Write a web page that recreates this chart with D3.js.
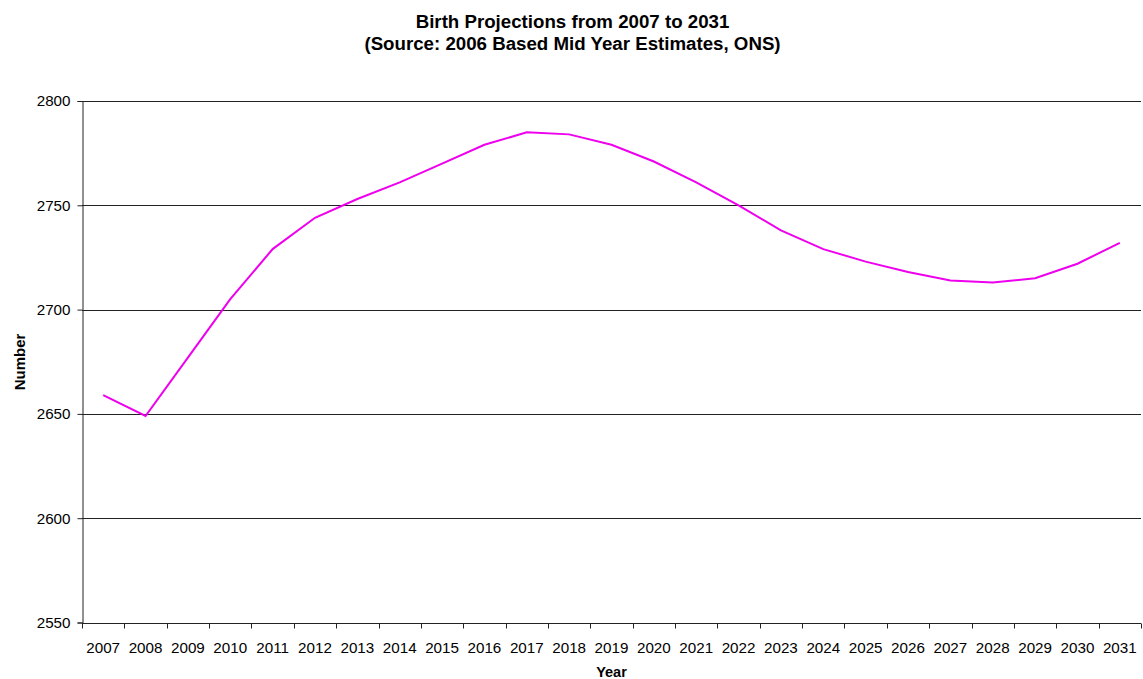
<!DOCTYPE html>
<html>
<head>
<meta charset="utf-8">
<script src="https://cdn.jsdelivr.net/npm/d3@7"></script>
<style>
  body { margin: 0; background: #fff; }
  text { font-family: "Liberation Sans", Arial, sans-serif; }
</style>
</head>
<body>
<svg id="chart" width="1143" height="679"></svg>
<script>
// data
const years = [2007, 2008, 2009, 2010, 2011, 2012, 2013, 2014, 2015, 2016, 2017, 2018, 2019,
  2020, 2021, 2022, 2023, 2024, 2025, 2026, 2027, 2028, 2029, 2030, 2031]
const births = [2659, 2649, 2677, 2705, 2729, 2744, 2753, 2761, 2770, 2779, 2785, 2784, 2779,
  2771, 2761, 2750, 2738, 2729, 2723, 2718, 2714, 2713, 2715, 2722, 2732]
const yTicks = [2550, 2600, 2650, 2700, 2750, 2800]
const titleLines = ["Birth Projections from 2007 to 2031", "(Source: 2006 Based Mid Year Estimates, ONS)"]

let width = 1143
let height = 679
let margin = { top: 101, right: 2, bottom: 56.5, left: 82 }

let svg = d3.select("#chart")
let g = svg.append("g")
  .attr("transform", "translate(" + margin.left + "," + margin.top + ")")

let innerW = width - margin.left - margin.right
let innerH = height - margin.top - margin.bottom

let xScale = d3.scaleBand()
  .domain(years)
  .range([0, innerW])

let yScale = d3.scaleLinear()
  .domain([2550, 2800])
  .range([innerH, 0])

// 网格线
g.append("g")
  .selectAll("line")
  .data(yTicks.slice(1))
  .enter()
  .append("line")
  .attr("x1", 0)
  .attr("x2", innerW)
  .attr("y1", d => Math.round(yScale(d)) + 0.5)
  .attr("y2", d => Math.round(yScale(d)) + 0.5)
  .attr("stroke", "#222")
  .attr("stroke-width", 1)

// y 轴
let yAxis = g.append("g")
  .attr("transform", "translate(0.5,0)")
  .call(d3.axisLeft(yScale).tickValues(yTicks).tickSize(5).tickPadding(7).tickFormat(d3.format("d")))
yAxis.selectAll("path, line").attr("stroke", "#222")
yAxis.selectAll("text").style("font-size", "15.2px").attr("fill", "#000")

// x 轴: ticks on band edges
let xAxis = g.append("g")
  .attr("transform", "translate(0," + (Math.round(innerH) + 0.5) + ")")
xAxis.append("line")
  .attr("x1", 0).attr("x2", innerW)
  .attr("stroke", "#222")
xAxis.selectAll(".edge")
  .data(years.concat(["end"]))
  .enter()
  .append("line")
  .attr("class", "edge")
  .attr("x1", (d, i) => Math.round(i * xScale.step()) + 0.5)
  .attr("x2", (d, i) => Math.round(i * xScale.step()) + 0.5)
  .attr("y1", 0).attr("y2", 5)
  .attr("stroke", "#222")
xAxis.selectAll(".lab")
  .data(years)
  .enter()
  .append("text")
  .attr("class", "lab")
  .attr("x", d => xScale(d) + xScale.bandwidth() / 2)
  .attr("y", 29)
  .attr("text-anchor", "middle")
  .style("font-size", "15.2px")
  .text(d => d)

// 线
let line = d3.line()
  .x((d, i) => xScale(years[i]) + xScale.bandwidth() / 2)
  .y(d => yScale(d))

g.append("path")
  .attr("d", line(births))
  .attr("fill", "none")
  .attr("stroke", "#ee00ee")
  .attr("stroke-width", 2)

// 标题
svg.append("g")
  .selectAll("text")
  .data(titleLines)
  .enter()
  .append("text")
  .attr("x", width / 2 + 1)
  .attr("y", (d, i) => 27.5 + i * 22.5)
  .attr("text-anchor", "middle")
  .style("font-size", "18.7px")
  .style("font-weight", "bold")
  .text(d => d)

svg.append("text")
  .attr("x", margin.left + innerW / 2)
  .attr("y", 677)
  .attr("text-anchor", "middle")
  .style("font-size", "14.5px")
  .style("font-weight", "bold")
  .text("Year")

svg.append("text")
  .attr("transform", "translate(24.5,362) rotate(-90)")
  .attr("text-anchor", "middle")
  .style("font-size", "15px")
  .style("font-weight", "bold")
  .text("Number")
</script>
</body>
</html>
